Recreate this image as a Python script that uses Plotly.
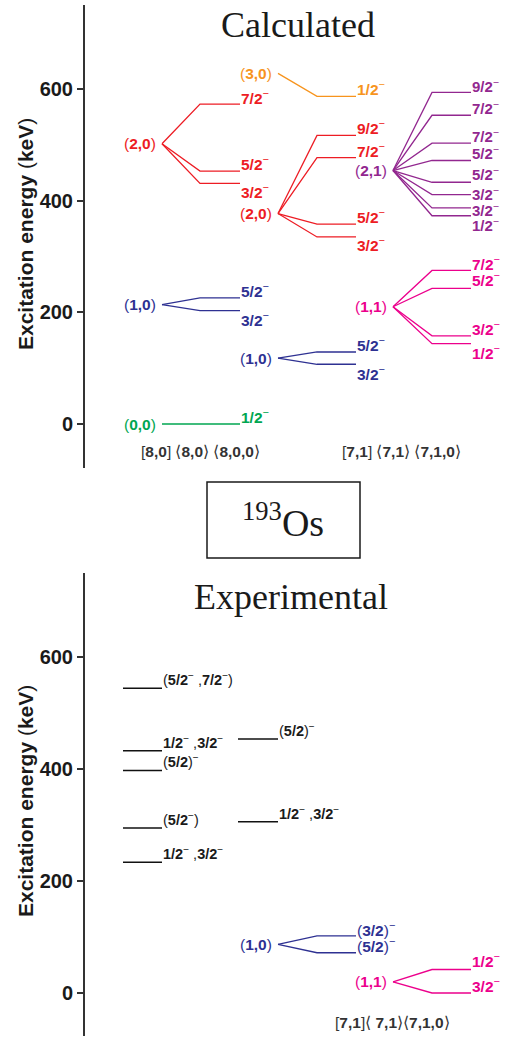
import plotly.graph_objects as go

# ---------------- DATA (keV) ----------------
# Calculated: column [8,0] <8,0> <8,0,0>
calc_00_origin = 0
calc_00_levels = [0]
calc_00_spins = ["1/2"]

calc_10a_origin = 214
calc_10a_levels = [226, 203]
calc_10a_spins = ["5/2", "3/2"]

calc_20a_origin = 502
calc_20a_levels = [573, 453, 431]
calc_20a_spins = ["7/2", "5/2", "3/2"]

# Calculated: column [7,1] <7,1> <7,1,0>
calc_30_origin = 628
calc_30_levels = [587]
calc_30_spins = ["1/2"]

calc_20b_origin = 377
calc_20b_levels = [517, 477, 358, 335]
calc_20b_spins = ["9/2", "7/2", "5/2", "3/2"]

calc_10b_origin = 118
calc_10b_levels = [129, 107]
calc_10b_spins = ["5/2", "3/2"]

calc_21_origin = 454
calc_21_levels = [594, 553, 503, 472, 433, 411, 387, 373]
calc_21_spins = ["9/2", "7/2", "7/2", "5/2", "5/2", "3/2", "3/2", "1/2"]

calc_11_origin = 210
calc_11_levels = [275, 243, 158, 144]
calc_11_spins = ["7/2", "5/2", "3/2", "1/2"]

# Experimental
exp_a_levels = [545, 433, 398, 295, 234]
exp_a_labels = ["(<b>5/2</b><sup>−</sup> ,<b>7/2</b><sup>−</sup>)",
                "<b>1/2</b><sup>−</sup> ,<b>3/2</b><sup>−</sup>",
                "(<b>5/2</b>)<sup>−</sup>",
                "(<b>5/2</b><sup>−</sup>)",
                "<b>1/2</b><sup>−</sup> ,<b>3/2</b><sup>−</sup>"]
exp_b_levels = [454, 306]
exp_b_labels = ["(<b>5/2</b>)<sup>−</sup>",
                "<b>1/2</b><sup>−</sup> ,<b>3/2</b><sup>−</sup>"]

exp_10_origin = 87
exp_10_levels = [102, 72]
exp_10_labels = ["(<b>3/2</b>)<sup>−</sup>", "(<b>5/2</b>)<sup>−</sup>"]

exp_11_origin = 20
exp_11_levels = [42, 0]
exp_11_labels = ["<b>1/2</b><sup>−</sup>", "<b>3/2</b><sup>−</sup>"]

y_ticks = [0, 200, 400, 600]

# ---------------- STYLE / LAYOUT ----------------
W, H = 507, 1038
RED, ORANGE, GREEN = "#ED1C24", "#F7941D", "#00A651"
BLUE, PURPLE, PINK = "#2E3192", "#92278F", "#EC008C"
SANS = "Liberation Sans, Arial, sans-serif"
SERIF = "Liberation Serif, Times New Roman, serif"

COL1 = (162, 200, 240)
COL2 = (278, 317, 356)
COL3 = (393, 432, 471)


def pyp(y):
    return (H - y) / H


def pxp(x):
    return (x - 85) / (W - 85)


fig = go.Figure()
ann = []


def spin_text(s):
    return "<b>%s</b><sup>−</sup>" % s


def group(axis, col, origin, levels, texts, shifts, color, name, size=15.5, lw=1.3):
    xr, yr = ("x", "y") if axis == 1 else ("x2", "y2")
    for lev, txt, sh in zip(levels, texts, shifts):
        fig.add_trace(go.Scatter(x=[col[0], col[1], col[2]], y=[origin, lev, lev],
                                 mode="lines", line=dict(color=color, width=lw),
                                 xaxis=xr, yaxis=yr, showlegend=False, hoverinfo="skip"))
        ann.append(dict(x=col[2], y=lev, xref=xr, yref=yr, text=txt, showarrow=False,
                        xanchor="left", yanchor="middle", yshift=sh, xshift=-1,
                        font=dict(family=SANS, size=size, color=color)))
    ann.append(dict(x=col[0], y=origin, xref=xr, yref=yr, text="(<b>%s</b>)" % name,
                    showarrow=False, xanchor="right", yanchor="middle", xshift=-4,
                    font=dict(family=SANS, size=15.5, color=color)))


group(1, COL1, calc_00_origin, calc_00_levels, [spin_text(s) for s in calc_00_spins], [8], GREEN, "0,0")
group(1, COL1, calc_10a_origin, calc_10a_levels, [spin_text(s) for s in calc_10a_spins], [8, -8], BLUE, "1,0")
group(1, COL1, calc_20a_origin, calc_20a_levels, [spin_text(s) for s in calc_20a_spins], [7, 8, -8], RED, "2,0")
group(1, COL2, calc_30_origin, calc_30_levels, [spin_text(s) for s in calc_30_spins], [8], ORANGE, "3,0")
group(1, COL2, calc_20b_origin, calc_20b_levels, [spin_text(s) for s in calc_20b_spins], [8, 8, 8, -7], RED, "2,0")
group(1, COL2, calc_10b_origin, calc_10b_levels, [spin_text(s) for s in calc_10b_spins], [8, -9], BLUE, "1,0")
group(1, COL3, calc_21_origin, calc_21_levels, [spin_text(s) for s in calc_21_spins],
      [7, 8, 8, 8, 9, 1, -2, -9], PURPLE, "2,1", size=15)
group(1, COL3, calc_11_origin, calc_11_levels, [spin_text(s) for s in calc_11_spins], [7, 9, 8, -8], PINK, "1,1")

group(2, COL2, exp_10_origin, exp_10_levels, exp_10_labels, [7, 8], BLUE, "1,0")
group(2, COL3, exp_11_origin, exp_11_levels, exp_11_labels, [10, 8], PINK, "1,1")

# experimental black levels
for col, levels, labels in [((123, 162), exp_a_levels, exp_a_labels), ((238, 278), exp_b_levels, exp_b_labels)]:
    for lev, txt in zip(levels, labels):
        fig.add_trace(go.Scatter(x=[col[0], col[1]], y=[lev, lev], mode="lines",
                                 line=dict(color="#111", width=1.5), xaxis="x2", yaxis="y2",
                                 showlegend=False, hoverinfo="skip"))
        ann.append(dict(x=col[1], y=lev, xref="x2", yref="y2", text=txt, showarrow=False,
                        xanchor="left", yanchor="middle", yshift=9, xshift=-1,
                        font=dict(family=SANS, size=14.5, color="#1a1a1a")))


def free_text(x, y, text, font, angle=0, xref="x"):
    return dict(x=x, y=pyp(y), xref=xref, yref="paper", text=text, showarrow=False,
                xanchor="center", yanchor="middle", textangle=angle, font=font)


ann += [
    free_text(298, 25, "Calculated", dict(family=SERIF, size=36, color="#1a1a1a")),
    free_text(291, 597, "Experimental", dict(family=SERIF, size=36, color="#1a1a1a")),
    free_text(283, 520, "<sup>193</sup>Os", dict(family=SERIF, size=38, color="#1a1a1a")),
    free_text(200, 452, "[<b>8,0</b>] ⟨<b>8,0</b>⟩ ⟨<b>8,0,0</b>⟩", dict(family=SANS, size=15.5, color="#333")),
    free_text(401, 452, "[<b>7,1</b>] ⟨<b>7,1</b>⟩ ⟨<b>7,1,0</b>⟩", dict(family=SANS, size=15.5, color="#333")),
    free_text(392, 1022, "[<b>7,1</b>]⟨ <b>7,1</b>⟩⟨<b>7,1,0</b>⟩", dict(family=SANS, size=15.5, color="#333")),
    free_text(pxp(25), 234, "<b>Excitation energy </b>(<b>keV</b>)",
              dict(family=SANS, size=21, color="#1a1a1a"), angle=-90, xref="paper"),
    free_text(pxp(25), 801, "<b>Excitation energy </b>(<b>keV</b>)",
              dict(family=SANS, size=21, color="#1a1a1a"), angle=-90, xref="paper"),
]

yax = dict(showline=True, linecolor="#333", linewidth=2, ticks="outside", ticklen=6,
           tickwidth=2, tickcolor="#333", tickvals=y_ticks, showgrid=False, zeroline=False,
           tickfont=dict(family=SANS, size=20, color="#1a1a1a", weight="bold"))
xax = dict(range=[85, W], visible=False, showgrid=False, zeroline=False)

fig.update_layout(
    width=W, height=H, margin=dict(l=85, r=0, t=0, b=0),
    paper_bgcolor="white", plot_bgcolor="white",
    xaxis=dict(xax, anchor="y"),
    yaxis=dict(yax, domain=[pyp(468), pyp(5)], range=[-78.8, 750.5], anchor="x"),
    xaxis2=dict(xax, anchor="y2"),
    yaxis2=dict(yax, domain=[pyp(1036), pyp(573)], range=[-76.9, 751], anchor="x2"),
    annotations=ann,
    shapes=[dict(type="rect", xref="x", yref="paper", x0=207, x1=360, y0=pyp(558), y1=pyp(482),
                 line=dict(color="#1a1a1a", width=1.5))],
    showlegend=False,
)

fig.write_html("out.html")
